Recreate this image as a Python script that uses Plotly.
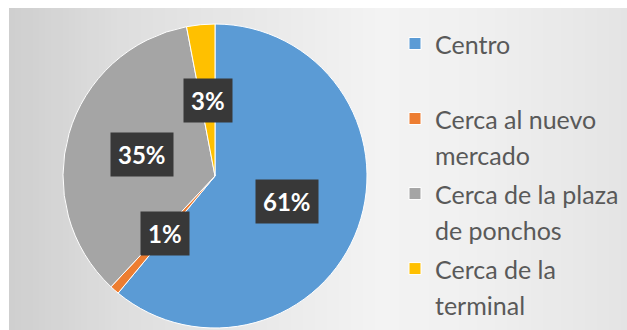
import math
import plotly.graph_objects as go

# Survey answers: where the business is located
labels = ["Centro", "Cerca al nuevo mercado", "Cerca de la plaza de ponchos", "Cerca de la terminal"]
legend_text = ["Centro<br> ", "Cerca al nuevo<br>mercado", "Cerca de la plaza<br>de ponchos", "Cerca de la<br>terminal"]
values = [61, 1, 35, 3]
colors = ["#5B9BD5", "#ED7D31", "#A5A5A5", "#FFC000"]

W, H = 627, 330
# pie placement in pixels
cx, cy, R = 215, 176, 152

fig = go.Figure()
fig.add_trace(go.Pie(
    labels=[f'<span style="font-size:25px">{t}</span>' for t in legend_text],
    values=values,
    marker=dict(colors=colors, line=dict(color="#ffffff", width=1)),
    sort=False,
    direction="clockwise",
    rotation=0,
    textinfo="none",
    hoverinfo="label+percent",
    domain=dict(x=[(cx - R) / W, (cx + R) / W], y=[1 - (cy + R) / H, 1 - (cy - R) / H]),
))

# value labels on dark boxes, placed halfway out along each slice's middle angle
total = sum(values)
acc = 0
annotations = []
for v in values:
    mid = (acc + v / 2) / total * 2 * math.pi
    acc += v
    px = cx + 0.5 * R * math.sin(mid)
    py = cy - 0.5 * R * math.cos(mid)
    annotations.append(dict(
        x=px / W, y=1 - py / H, xref="paper", yref="paper",
        text=f"<b>{v}%</b>", showarrow=False,
        font=dict(family="Lato", size=24, color="#ffffff"),
        bgcolor="#383838", borderpad=7,
        xanchor="center", yanchor="middle",
    ))

# soft grey backdrop, lighter towards the legend
stops = [(9, 207), (120, 222), (380, 243), (470, 240), (627, 228)]
shapes = []
step = 6
x = 9
while x < W:
    for (x0, c0), (x1, c1) in zip(stops, stops[1:]):
        if x0 <= x <= x1:
            g = round(c0 + (c1 - c0) * (x - x0) / (x1 - x0))
            break
    shapes.append(dict(type="rect", xref="paper", yref="paper",
                       x0=x / W, x1=min(x + step, W) / W, y0=0, y1=1 - 8 / H,
                       fillcolor=f"rgb({g},{g},{g})", line=dict(width=0), layer="below"))
    x += step

fig.update_layout(
    width=W, height=H,
    margin=dict(l=0, r=0, t=0, b=0),
    paper_bgcolor="#ffffff",
    annotations=annotations,
    shapes=shapes,
    showlegend=True,
    legend=dict(
        x=395 / W, y=1 - 28 / H, xanchor="left", yanchor="top",
        font=dict(family="Lato", size=27.7, color="#595959"),
        valign="top", bgcolor="rgba(0,0,0,0)",
    ),
)

fig.write_html("out.html")
